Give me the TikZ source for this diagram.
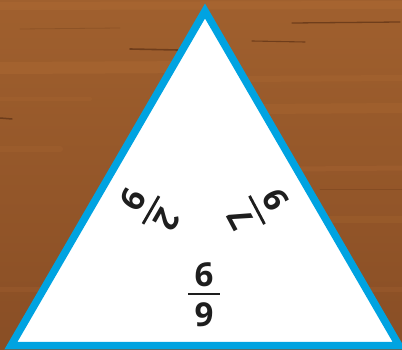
\documentclass[tikz,border=0pt]{standalone}
\usepackage{fontspec}
\newfontfamily\fracfont{Open Sans}
\definecolor{wood}{RGB}{146,84,40}
\definecolor{woodtop}{RGB}{160,96,46}
\definecolor{woodbot}{RGB}{137,78,37}
\definecolor{woodlight}{RGB}{178,110,54}
\definecolor{wooddark}{RGB}{92,48,20}
\definecolor{triblue}{RGB}{0,163,225}
\definecolor{ink}{RGB}{30,30,30}
\begin{document}
\begin{tikzpicture}[x=1pt,y=1pt,
  digit/.style={font=\fracfont\bfseries\fontsize{33}{33}\selectfont, text=ink, inner sep=0pt, transform shape},
  fracbar/.style={line width=2.8pt, ink},
  grain/.style={draw=woodlight, line cap=round, opacity=0.35},
  streak/.style={draw=wooddark, line cap=round, opacity=0.7}]
\useasboundingbox (0,0) rectangle (402,349);
% wood background
\shade[top color=woodtop, bottom color=woodbot] (0,0) rectangle (402,349);
\draw[grain, line width=8pt] (0,343) -- (402,344);
\draw[grain, line width=12pt] (0,281) -- (210,282);
\draw[grain, line width=6pt, opacity=0.25] (240,270) -- (402,271);
\draw[grain, line width=10pt, opacity=0.25] (260,240) -- (402,241);
\draw[grain, line width=5pt, opacity=0.25] (300,180) -- (402,181);
\draw[grain, line width=7pt, opacity=0.2] (300,130) -- (402,130);
\draw[grain, line width=6pt, opacity=0.2] (0,200) -- (60,200);
\draw[grain, line width=4pt, opacity=0.2] (0,250) -- (90,250);
\draw[grain, line width=5pt, opacity=0.2] (0,60) -- (40,60);
\draw[grain, line width=5pt, opacity=0.2] (340,60) -- (402,60);
\draw[streak, line width=1.6pt] (130,300) -- (178,299);
\draw[streak, line width=1.3pt] (292,326) -- (400,327);
\draw[streak, line width=1.1pt] (252,308) -- (305,307);
\draw[streak, line width=1.5pt] (0,231) -- (12,230);
\draw[streak, line width=0.8pt, opacity=0.25] (20,320) -- (120,321);
\draw[streak, line width=0.8pt, opacity=0.25] (320,160) -- (402,160);
% triangle
\draw[triblue, line width=7.5pt, fill=white] (205,338) -- (11,3.5) -- (399,3.5) -- cycle;
% bottom fraction
\begin{scope}[shift={(204,55)}]
  \node[digit] (n1) at (0,19) {6};
  \draw[fracbar] (-16,0) -- (16,0);
  \node[digit] (d1) at (0,-21) {9};
\end{scope}
% left fraction
\begin{scope}[shift={(151,139)}, rotate=-120]
  \node[digit] (n2) at (0,19) {2};
  \draw[fracbar] (-16,0) -- (16,0);
  \node[digit] (d2) at (0,-21) {9};
\end{scope}
% right fraction
\begin{scope}[shift={(257,139)}, rotate=118]
  \node[digit] (n3) at (0,19) {7};
  \draw[fracbar] (-16,0) -- (16,0);
  \node[digit] (d3) at (0,-21) {9};
\end{scope}
\end{tikzpicture}
\end{document}
